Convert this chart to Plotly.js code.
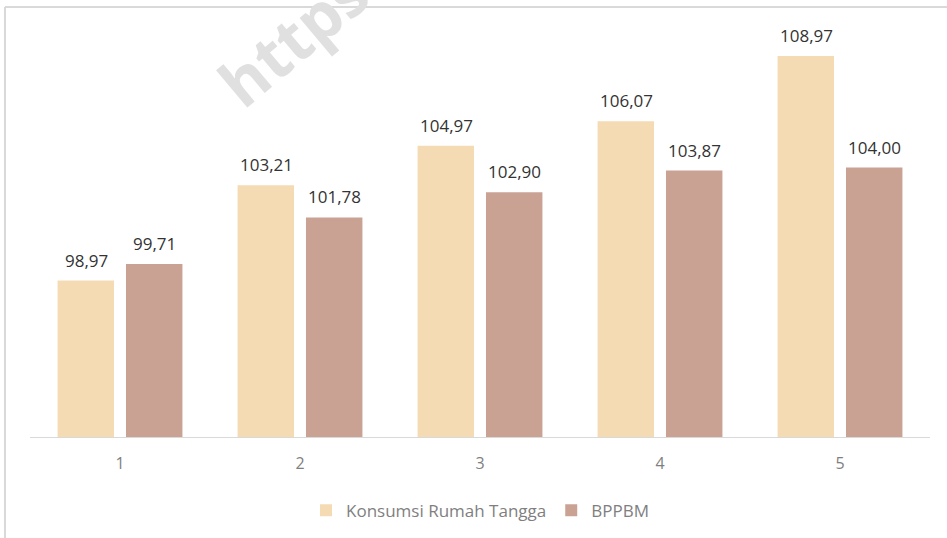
<!DOCTYPE html>
<html>
<head>
<meta charset="utf-8">
<script src="https://cdn.plot.ly/plotly-3.0.1.min.js"></script>
<style>
  html, body { margin: 0; padding: 0; background: #ffffff; }
  #chart { width: 947px; height: 538px; }
</style>
</head>
<body>
<div id="chart"></div>
<script>
const categories = [1, 2, 3, 4, 5];
const konsumsi = [98.97, 103.21, 104.97, 106.07, 108.97];
const bppbm = [99.71, 101.78, 102.90, 103.87, 104.00];
const seriesNames = ['Konsumsi Rumah Tangga', 'BPPBM'];
const colors = { konsumsi: '#f5dbb4', bppbm: '#caa294' };

const font = 'Open Sans, Noto Sans, sans-serif';
const fmt = v => v.toFixed(2).replace('.', ',');

const traces = [
    {
        x: categories,
        y: konsumsi,
        name: seriesNames[0],
        type: 'bar',
        marker: { color: colors.konsumsi },
        hoverinfo: 'skip'
    },
    {
        x: categories,
        y: bppbm,
        name: seriesNames[1],
        type: 'bar',
        marker: { color: colors.bppbm },
        hoverinfo: 'skip'
    }
];

// faint watermark first, so the value labels sit on top of it
const annotations = [{
    xref: 'paper',
    yref: 'paper',
    x: 0.292,
    y: 0.935,
    xanchor: 'center',
    yanchor: 'middle',
    text: '<b>https</b>',
    showarrow: false,
    textangle: -40,
    font: { family: font, size: 64, color: '#e0e0e0' }
}];

// value labels above each bar
[konsumsi, bppbm].forEach((vals, s) => {
    vals.forEach((v, i) => {
        annotations.push({
            x: categories[i],
            y: v,
            xref: 'x',
            yref: 'y',
            text: fmt(v),
            showarrow: false,
            xanchor: 'center',
            yanchor: 'bottom',
            xshift: s === 0 ? -34 : 34,
            yshift: 7,
            font: { family: font, size: 17, color: '#333333' }
        });
    });
});

const layout = {
    width: 947,
    height: 538,
    barmode: 'group',
    bargap: 0.24,
    bargroupgap: 0.175,
    xaxis: {
        type: 'linear',
        range: [0.5, 5.5],
        tickvals: categories,
        ticktext: categories.map(String),
        showgrid: false,
        zeroline: false,
        showline: true,
        linecolor: '#d9d9d9',
        linewidth: 1,
        ticks: '',
        ticklabelstandoff: 12,
        tickfont: { family: font, size: 16, color: '#7f7f7f' }
    },
    yaxis: {
        range: [92, 111.02],
        visible: false,
        showgrid: false,
        zeroline: false
    },
    showlegend: true,
    legend: {
        orientation: 'h',
        x: 0.5,
        xanchor: 'center',
        y: -0.17,
        yanchor: 'middle',
        traceorder: 'normal',
        itemwidth: 30,
        font: { family: font, size: 17, color: '#7f7f7f' }
    },
    shapes: [
        {
            type: 'line', xref: 'paper', yref: 'paper', layer: 'below',
            x0: -0.0278, x1: 1.03, y0: 1.007, y1: 1.007,
            line: { color: '#d9d9d9', width: 2 }
        },
        {
            type: 'line', xref: 'paper', yref: 'paper', layer: 'below',
            x0: -0.0278, x1: -0.0278, y0: 1.007, y1: -0.3,
            line: { color: '#d9d9d9', width: 2 }
        }
    ],
    annotations: annotations,
    margin: { l: 30, r: 17, t: 10, b: 100 },
    paper_bgcolor: '#ffffff',
    plot_bgcolor: 'rgba(0,0,0,0)'
};

Plotly.newPlot('chart', traces, layout, { displayModeBar: false, staticPlot: true });
</script>
</body>
</html>
